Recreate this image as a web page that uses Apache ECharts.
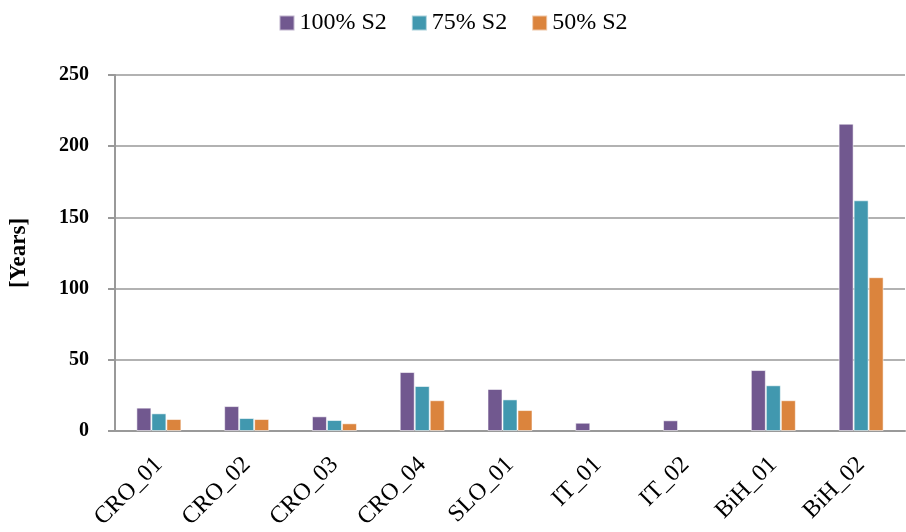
<!DOCTYPE html>
<html>
<head>
<meta charset="utf-8">
<script src="https://cdn.jsdelivr.net/npm/echarts@6/dist/echarts.min.js"></script>
<style>
  html, body { margin: 0; padding: 0; background: #fff; }
  #chart { width: 906px; height: 532px; }
</style>
</head>
<body>
<div id="chart"></div>
<script>
// Sites on the category axis
const sites = ['CRO_01', 'CRO_02', 'CRO_03', 'CRO_04', 'SLO_01', 'IT_01', 'IT_02', 'BiH_01', 'BiH_02'];

// Years for each scenario (null = no bar)
const s2Full = [16.4, 17.5, 10.3, 41.4, 29.5, 5.8, 7.5, 42.8, 215.8];
const s2ThreeQuarter = [12.4, 9.1, 7.7, 31.6, 22.2, null, null, 32.1, 162];
const s2Half = [8.4, 8.4, 5.4, 21.6, 14.7, null, null, 21.6, 108];

const seriesNames = ['100% S2', '75% S2', '50% S2'];
const yTicks = { min: 0, max: 250, interval: 50 };

const font = "'Liberation Serif', serif";
const colors = ['#71588F', '#4198AF', '#DB843D'];

const chart = echarts.init(document.getElementById('chart'));

function bar(name, data, color) {
  return {
    name: name,
    type: 'bar',
    data: data,
    barWidth: 15,
    barGap: '0%',
    itemStyle: {
      color: color,
      borderColor: 'rgba(255,255,255,0.55)',
      borderWidth: 1
    }
  };
}

chart.setOption({
  animation: false,
  color: colors,
  textStyle: { fontFamily: font },
  legend: {
    top: 6,
    left: 'center',
    itemWidth: 15,
    itemHeight: 15,
    itemGap: 24,
    icon: 'rect',
    textStyle: { fontFamily: font, fontSize: 24, color: '#000' },
    data: seriesNames
  },
  grid: { left: 114, right: 1, top: 75, bottom: 101, containLabel: false },
  xAxis: {
    type: 'category',
    data: sites,
    axisLine: { lineStyle: { color: '#999', width: 2 } },
    axisTick: { show: false },
    axisLabel: {
      rotate: 45,
      interval: 0,
      margin: 30,
      fontFamily: font,
      fontSize: 24,
      color: '#000'
    }
  },
  yAxis: {
    type: 'value',
    min: yTicks.min,
    max: yTicks.max,
    interval: yTicks.interval,
    name: '[Years]',
    nameLocation: 'middle',
    nameGap: 84,
    nameTextStyle: { fontFamily: font, fontSize: 23, fontWeight: 'bold', color: '#000' },
    axisLine: { show: true, lineStyle: { color: '#999', width: 2 } },
    axisTick: { show: true, inside: false, length: 7, lineStyle: { color: '#999', width: 2 } },
    axisLabel: { margin: 26, fontFamily: font, fontSize: 20, fontWeight: 'bold', color: '#000' },
    splitLine: { lineStyle: { color: '#999', width: 1.5 } }
  },
  series: [
    bar(seriesNames[0], s2Full, colors[0]),
    bar(seriesNames[1], s2ThreeQuarter, colors[1]),
    bar(seriesNames[2], s2Half, colors[2])
  ]
});
</script>
</body>
</html>
